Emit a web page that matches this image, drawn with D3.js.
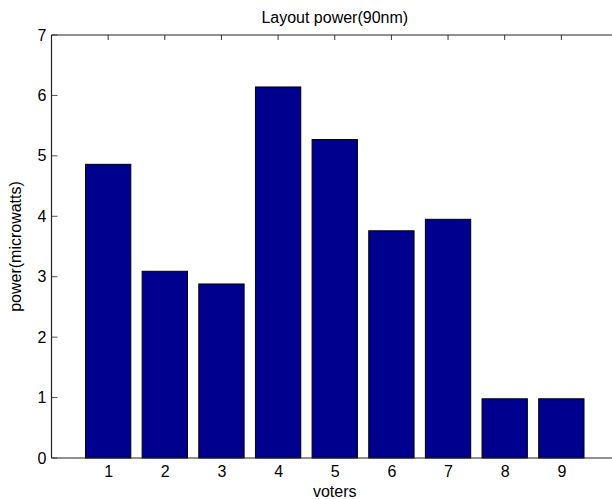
<!DOCTYPE html>
<html><head><meta charset="utf-8">
<script src="https://cdn.jsdelivr.net/npm/d3@7"></script>
<style>body{margin:0;background:#fff}svg{display:block}text{font-family:"Liberation Sans",Arial,sans-serif}</style>
</head><body><svg id="c" width="612" height="499"></svg>
<script>
const categories = [1,2,3,4,5,6,7,8,9];
const powerValues = [4.86, 3.09, 2.88, 6.14, 5.27, 3.76, 3.95, 0.98, 0.98];
const yTicks = [0,1,2,3,4,5,6,7];
const title = "Layout power(90nm)";
const xLabel = "voters";
const yLabel = "power(microwatts)";

const svg = d3.select("#c");
const L = 51.5, T = 35, B = 458;
const x = d3.scaleLinear().domain([0,10]).range([L, 618]);
const y = d3.scaleLinear().domain([0,7]).range([B, T]);
const bw = (x(1)-x(0))*0.8;
const fs = 16;

svg.append("g").selectAll("rect").data(powerValues).join("rect")
  .attr("x",(d,i)=>x(categories[i])-bw/2).attr("width",bw)
  .attr("y",d=>y(d)).attr("height",d=>y(0)-y(d))
  .attr("fill","#00008f").attr("stroke","#000").attr("stroke-width",1);

// y axis
const ya = d3.axisLeft(y).tickValues(yTicks).tickFormat(d3.format("d")).tickSize(0).tickPadding(5);
const gy = svg.append("g").attr("transform",`translate(${L},0)`).call(ya);
gy.select(".domain").remove();
gy.selectAll("text").attr("font-size",fs).attr("fill","#000").attr("font-family","Liberation Sans, Arial");
svg.append("g").selectAll("line").data(yTicks).join("line")
  .attr("x1",L).attr("x2",L+6).attr("y1",d=>y(d)).attr("y2",d=>y(d))
  .attr("stroke","#555").attr("stroke-width",1);

// x axis
const xa = d3.axisBottom(x).tickValues(categories).tickFormat(d3.format("d")).tickSize(0).tickPadding(8);
const gx = svg.append("g").attr("transform",`translate(0,${B})`).call(xa);
gx.select(".domain").remove();
gx.selectAll("text").attr("font-size",fs).attr("fill","#000").attr("font-family","Liberation Sans, Arial");
svg.append("g").selectAll("line").data(categories).join("line")
  .attr("x1",d=>x(d)).attr("x2",d=>x(d)).attr("y1",T).attr("y2",T+5)
  .attr("stroke","#333").attr("stroke-width",1);

// box
svg.append("line").attr("x1",L).attr("x2",L).attr("y1",T).attr("y2",B).attr("stroke","#222").attr("stroke-width",1.2);
svg.append("line").attr("x1",L).attr("x2",618).attr("y1",B).attr("y2",B).attr("stroke","#222").attr("stroke-width",1.2);
svg.append("line").attr("x1",L).attr("x2",618).attr("y1",T).attr("y2",T).attr("stroke","#222").attr("stroke-width",1.2);

svg.append("text").attr("x",(L+618)/2).attr("y",23).attr("text-anchor","middle").attr("font-size",fs).text(title);
svg.append("text").attr("x",(L+618)/2).attr("y",497).attr("text-anchor","middle").attr("font-size",fs).text(xLabel);
svg.append("text").attr("transform",`translate(21,${(T+B)/2}) rotate(-90)`).attr("text-anchor","middle").attr("font-size",fs).text(yLabel);
</script></body></html>
